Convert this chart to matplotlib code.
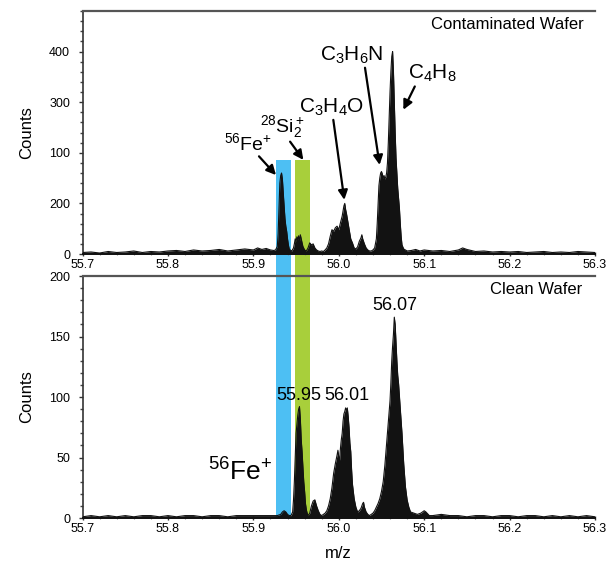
import matplotlib
matplotlib.use("Agg")
import matplotlib.pyplot as plt
from matplotlib.patches import Rectangle
from matplotlib.transforms import blended_transform_factory
from matplotlib.ticker import MultipleLocator

plt.rcParams['font.family'] = ['Liberation Sans', 'DejaVu Sans']
plt.rcParams['mathtext.fontset'] = 'custom'
plt.rcParams['mathtext.rm'] = 'Liberation Sans'
plt.rcParams['mathtext.it'] = 'Liberation Sans:italic'
plt.rcParams['mathtext.bf'] = 'Liberation Sans:bold'

# ---------------- data ----------------
# Contaminated wafer spectrum (m/z, counts)
top_mz = [55.700, 55.710, 55.720, 55.730, 55.740, 55.750, 55.760, 55.770, 55.780, 55.790,
          55.800, 55.810, 55.820, 55.830, 55.840, 55.850, 55.860, 55.870, 55.880, 55.890,
          55.900, 55.905, 55.910, 55.915, 55.920, 55.924, 55.926, 55.928, 55.929, 55.930,
          55.931, 55.932, 55.933, 55.934, 55.935, 55.936, 55.937, 55.938, 55.939, 55.940,
          55.941, 55.942, 55.943, 55.945, 55.947, 55.948, 55.949, 55.950, 55.951, 55.952,
          55.953, 55.954, 55.955, 55.956, 55.957, 55.958, 55.960, 55.962, 55.964, 55.966,
          55.968, 55.970, 55.972, 55.974, 55.976, 55.978, 55.980, 55.982, 55.984, 55.986,
          55.988, 55.990, 55.992, 55.994, 55.996, 55.998, 56.000, 56.002, 56.004, 56.005,
          56.006, 56.007, 56.008, 56.009, 56.010, 56.011, 56.012, 56.013, 56.014, 56.016,
          56.018, 56.020, 56.022, 56.024, 56.026, 56.027, 56.028, 56.030, 56.032, 56.034,
          56.036, 56.038, 56.040, 56.042, 56.044, 56.045, 56.046, 56.047, 56.048, 56.049,
          56.050, 56.051, 56.052, 56.053, 56.054, 56.055, 56.056, 56.057, 56.058, 56.059,
          56.060, 56.061, 56.062, 56.063, 56.064, 56.065, 56.066, 56.067, 56.068, 56.069,
          56.070, 56.071, 56.072, 56.073, 56.074, 56.076, 56.078, 56.080, 56.085, 56.090,
          56.095, 56.100, 56.110, 56.120, 56.130, 56.140, 56.145, 56.150, 56.160, 56.170,
          56.180, 56.190, 56.200, 56.210, 56.220, 56.230, 56.240, 56.250, 56.260, 56.270,
          56.280, 56.290, 56.300]
top_counts = [3, 4, 2, 5, 3, 4, 6, 3, 5, 4,
              6, 7, 5, 8, 6, 7, 9, 6, 8, 10,
              8, 12, 9, 11, 8, 7, 8, 15, 40, 90,
              140, 155, 160, 148, 120, 95, 70, 55, 45, 30,
              18, 10, 8, 6, 12, 20, 30, 25, 34, 28,
              36, 25, 38, 30, 22, 15, 8, 6, 12, 22,
              18, 20, 12, 8, 6, 5, 6, 5, 8, 12,
              20, 35, 48, 45, 52, 55, 48, 62, 75, 85,
              95, 100, 88, 80, 70, 60, 50, 40, 30, 22,
              12, 10, 14, 25, 32, 38, 30, 20, 12, 8,
              6, 6, 8, 12, 30, 60, 100, 135, 150, 160,
              163, 158, 150, 155, 148, 152, 160, 180, 220, 270,
              320, 360, 390, 400, 360, 300, 240, 190, 160, 130,
              110, 90, 60, 35, 18, 10, 8, 6, 7, 9,
              6, 8, 6, 7, 5, 8, 12, 9, 5, 6,
              4, 5, 4, 5, 3, 4, 5, 3, 4, 3,
              5, 4, 3]

# Clean wafer spectrum (m/z, counts)
bot_mz = [55.700, 55.710, 55.720, 55.730, 55.740, 55.750, 55.760, 55.770, 55.780, 55.790,
          55.800, 55.810, 55.820, 55.830, 55.840, 55.850, 55.860, 55.870, 55.880, 55.890,
          55.900, 55.910, 55.920, 55.928, 55.932, 55.934, 55.936, 55.938, 55.940, 55.942,
          55.944, 55.946, 55.947, 55.948, 55.949, 55.950, 55.951, 55.952, 55.953, 55.954,
          55.955, 55.956, 55.957, 55.958, 55.959, 55.960, 55.961, 55.962, 55.963, 55.964,
          55.966, 55.968, 55.970, 55.972, 55.974, 55.976, 55.978, 55.980, 55.982, 55.984,
          55.986, 55.988, 55.990, 55.992, 55.994, 55.996, 55.998, 55.999, 56.000, 56.001,
          56.002, 56.003, 56.004, 56.005, 56.006, 56.007, 56.008, 56.009, 56.010, 56.011,
          56.012, 56.013, 56.014, 56.015, 56.016, 56.018, 56.020, 56.022, 56.024, 56.026,
          56.028, 56.029, 56.030, 56.032, 56.034, 56.036, 56.038, 56.040, 56.042, 56.044,
          56.046, 56.048, 56.050, 56.052, 56.054, 56.056, 56.058, 56.060, 56.061, 56.062,
          56.063, 56.064, 56.065, 56.066, 56.067, 56.068, 56.069, 56.070, 56.072, 56.074,
          56.076, 56.078, 56.080, 56.082, 56.084, 56.088, 56.092, 56.096, 56.100, 56.102,
          56.106, 56.110, 56.120, 56.130, 56.140, 56.150, 56.160, 56.170, 56.180, 56.190,
          56.200, 56.210, 56.220, 56.230, 56.240, 56.250, 56.260, 56.270, 56.280, 56.290,
          56.300]
bot_counts = [1, 2, 1, 2, 1, 2, 1, 2, 2, 1,
              2, 1, 2, 2, 1, 2, 2, 1, 2, 2,
              2, 2, 2, 2, 3, 5, 6, 5, 3, 2,
              2, 5, 15, 30, 50, 70, 78, 85, 90, 92,
              82, 65, 55, 42, 30, 22, 12, 7, 4, 2,
              4, 10, 14, 15, 10, 6, 3, 2, 3, 4,
              6, 10, 16, 25, 37, 45, 52, 56, 50, 48,
              58, 65, 70, 80, 86, 88, 91, 89, 91, 84,
              75, 62, 55, 40, 28, 16, 9, 5, 6, 8,
              12, 13, 9, 5, 3, 2, 3, 4, 6, 9,
              12, 16, 22, 30, 44, 62, 80, 97, 112, 130,
              142, 152, 166, 160, 145, 130, 118, 111, 90, 70,
              45, 26, 15, 9, 5, 4, 3, 4, 6, 5,
              2, 2, 3, 2, 2, 1, 2, 2, 1, 2,
              2, 1, 2, 2, 1, 2, 1, 2, 1, 2,
              1]

x_ticks = [55.7, 55.8, 55.9, 56.0, 56.1, 56.2, 56.3]
x_tick_labels = ['55.7', '55.8', '55.9', '56.0', '56.1', '56.2', '56.3']
top_y_ticks = [0, 100, 200, 300, 400]
top_y_tick_labels = ['0', '200', '100', '300', '400']
bot_y_ticks = [0, 50, 100, 150, 200]
bot_y_tick_labels = ['0', '50', '100', '150', '200']

fe_band = (55.9265, 55.944)
si_band = (55.9485, 55.9665)

# ---------------- figure ----------------
fig = plt.figure(figsize=(6.08, 5.63), dpi=100)
ax1 = fig.add_axes([0.1357, 0.5488, 0.843, 0.4316])
ax2 = fig.add_axes([0.1357, 0.0799, 0.843, 0.4298])

spec_col = '#121212'
for ax, mz, cts, yt, ytl, ylim, minor in [
        (ax1, top_mz, top_counts, top_y_ticks, top_y_tick_labels, (0, 480), 20),
        (ax2, bot_mz, bot_counts, bot_y_ticks, bot_y_tick_labels, (0, 200), 10)]:
    ax.set_facecolor('none')
    ax.fill_between(mz, 0, cts, color=spec_col, lw=0, zorder=3)
    ax.plot(mz, cts, color=spec_col, lw=0.8, zorder=3)
    ax.set_xlim(55.7, 56.3)
    ax.set_ylim(*ylim)
    ax.set_xticks(x_ticks)
    ax.set_xticklabels(x_tick_labels)
    ax.set_yticks(yt)
    ax.set_yticklabels(ytl)
    ax.yaxis.set_minor_locator(MultipleLocator(minor))
    ax.xaxis.set_minor_locator(MultipleLocator(0.02))
    ax.tick_params(axis='both', labelsize=9, length=3, width=1, color='#333333')
    ax.tick_params(axis='y', which='major', pad=6)
    ax.tick_params(axis='x', which='major', pad=2, direction='inout', length=3)
    ax.tick_params(axis='y', which='minor', length=2.5, width=1, color='#444444')
    ax.tick_params(axis='x', which='minor', length=2, width=0.8, color='#888888', direction='inout')
    ax.spines['right'].set_visible(False)
    ax.spines['top'].set_color('#555555')
    ax.spines['top'].set_linewidth(1.6)
    ax.spines['left'].set_color('#333333')
    ax.spines['left'].set_linewidth(1.2)
    ax.spines['bottom'].set_color('#111111')
    ax.spines['bottom'].set_linewidth(1.4)
    ax.set_ylabel('Counts', fontsize=12, labelpad=11)

ax2.set_xlabel('m/z', fontsize=12, labelpad=8)

# coloured bands spanning both panels
trans = blended_transform_factory(ax2.transData, fig.transFigure)
band_top = 1 - 160 / 563
band_bot = 0.0799
for (x0, x1), col in [(fe_band, '#4DBFF3'), (si_band, '#A8CF3B')]:
    fig.add_artist(Rectangle((x0, band_bot), x1 - x0, band_top - band_bot,
                             transform=trans, color=col, lw=0, zorder=-1))

# top panel annotations
ax1.text(0.977, 0.946, 'Contaminated Wafer', transform=ax1.transAxes,
         ha='right', va='center', fontsize=12)
arrow = dict(arrowstyle='-|>', color='black', lw=1.6, mutation_scale=14, shrinkA=0, shrinkB=0)
chem_fs = 15
ax1.annotate('', xy=(56.0478, 176), xytext=(56.0307, 368), arrowprops=arrow)
ax1.text(56.015, 372, 'C$_3$H$_6$N', ha='center', va='bottom', fontsize=chem_fs)
ax1.annotate('', xy=(56.0756, 285), xytext=(56.089, 331), arrowprops=arrow)
ax1.text(56.110, 336, 'C$_4$H$_8$', ha='center', va='bottom', fontsize=chem_fs)
ax1.annotate('', xy=(56.0065, 107), xytext=(55.9936, 265), arrowprops=arrow)
ax1.text(55.992, 268, 'C$_3$H$_4$O', ha='center', va='bottom', fontsize=chem_fs)
ax1.annotate('', xy=(55.9585, 186), xytext=(55.943, 222), arrowprops=arrow)
ax1.text(55.934, 226, '$^{28}$Si$_2^+$', ha='center', va='bottom', fontsize=14)
ax1.annotate('', xy=(55.9265, 156), xytext=(55.9066, 193), arrowprops=arrow)
ax1.text(55.894, 197, '$^{56}$Fe$^{+}$', ha='center', va='bottom', fontsize=14)

# bottom panel annotations
ax2.text(0.975, 0.946, 'Clean Wafer', transform=ax2.transAxes,
         ha='right', va='center', fontsize=12)
ax2.text(56.066, 176, '56.07', ha='center', va='center', fontsize=13)
ax2.text(55.9535, 101, '55.95', ha='center', va='center', fontsize=13)
ax2.text(56.0097, 101, '56.01', ha='center', va='center', fontsize=13)
ax2.text(55.922, 38, '$^{56}$Fe$^{+}$', ha='right', va='center', fontsize=19)

fig.savefig('out.png', dpi=100)
